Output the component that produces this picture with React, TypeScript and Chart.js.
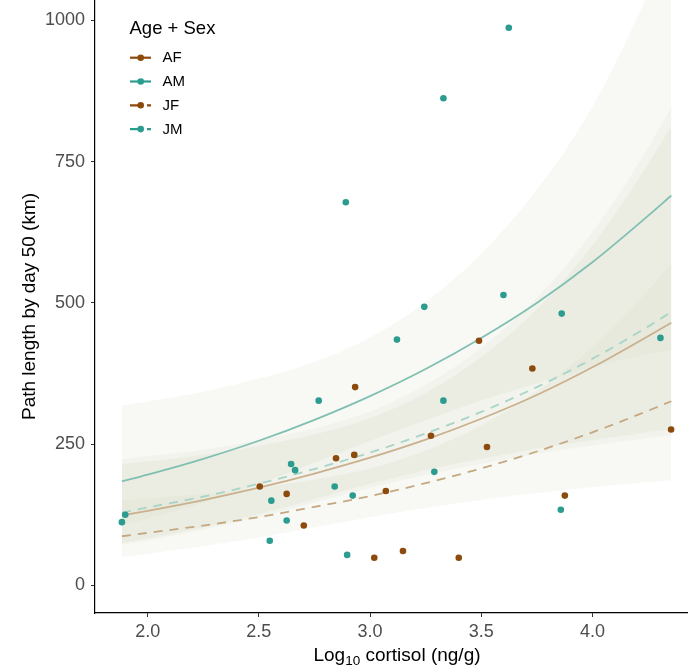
import React, { useEffect, useRef } from "react";
import { Chart, registerables } from "chart.js";

Chart.register(...registerables);

const FONT = "'Liberation Sans', Arial, Helvetica, sans-serif";

// Fitted curves at these cortisol values
const fitX = [1.884, 2.0, 2.25, 2.5, 2.75, 3.0, 3.25, 3.5, 3.75, 4.0, 4.25, 4.355];
const fitAF = [124, 132, 151, 173, 198, 226, 258, 295, 337, 386, 441, 465];
const fitAM = [184, 196, 224, 256, 293, 335, 383, 438, 500, 572, 654, 690];
const fitJF = [87, 93, 106, 121, 139, 158, 181, 207, 237, 271, 309, 326];
const fitJM = [129, 138, 157, 180, 206, 235, 269, 307, 351, 401, 458, 484];
// multiplicative half-width of the confidence ribbons at fitX
const ciFactor = [1.73, 1.66, 1.53, 1.43, 1.35, 1.31, 1.32, 1.37, 1.45, 1.56, 1.69, 1.75];
const ciFactorAM = [1.73, 1.66, 1.53, 1.43, 1.35, 1.31, 1.31, 1.34, 1.4, 1.48, 1.6, 1.66];

// Observed points
const femaleX = [2.504, 2.625, 2.702, 2.847, 2.929, 2.933, 3.019, 3.071, 3.148, 3.274, 3.399, 3.49, 3.526, 3.73, 3.876, 4.354];
const femaleY = [175, 162, 106, 225, 231, 351, 49, 167, 61, 265, 49, 433, 245, 384, 159, 276];
const maleX = [1.884, 1.899, 2.549, 2.556, 2.625, 2.645, 2.663, 2.769, 2.841, 2.891, 2.897, 2.922, 3.121, 3.244, 3.289, 3.33, 3.33, 3.6, 3.624, 3.858, 3.862, 4.306];
const maleY = [112, 125, 79, 150, 115, 215, 204, 327, 175, 678, 54, 159, 435, 493, 201, 327, 862, 514, 987, 134, 481, 438];

const xTicks = [2.0, 2.5, 3.0, 3.5, 4.0];
const yTicks = [0, 250, 500, 750, 1000];

const legendTitle = "Age + Sex";
const legendLabels = ["AF", "AM", "JF", "JM"];

const BROWN = "#8c4a0c";
const TEAL = "#2b9c8f";
const RIBBON = "rgba(165,175,128,0.08)";
const legendColors = [BROWN, TEAL, BROWN, TEAL];
const legendDashed = [false, false, true, true];

const toXY = (xs: number[], ys: number[]) => xs.map((x, i) => ({ x, y: ys[i] }));

const legendPlugin = {
  id: "ggLegend",
  afterDatasetsDraw(chart: any) {
    const ctx = chart.ctx;
    ctx.save();
    ctx.fillStyle = "#000";
    ctx.font = `18.5px ${FONT}`;
    ctx.textBaseline = "alphabetic";
    ctx.textAlign = "left";
    ctx.fillText(legendTitle, 129.5, 34);
    legendLabels.forEach((lab, i) => {
      const y = 57.7 + i * 23.8;
      ctx.strokeStyle = legendColors[i];
      ctx.lineWidth = 2.2;
      ctx.setLineDash(legendDashed[i] ? [13, 4] : []);
      ctx.beginPath();
      ctx.moveTo(130, y);
      ctx.lineTo(151, y);
      ctx.stroke();
      ctx.setLineDash([]);
      ctx.fillStyle = legendColors[i];
      ctx.beginPath();
      ctx.arc(140.7, y, 3.3, 0, Math.PI * 2);
      ctx.fill();
      ctx.fillStyle = "#000";
      ctx.font = `15px ${FONT}`;
      ctx.textBaseline = "middle";
      ctx.fillText(lab, 162.5, y + 0.5);
    });
    ctx.restore();
  },
};

const xTitlePlugin = {
  id: "xTitle",
  afterDraw(chart: any) {
    const ctx = chart.ctx;
    ctx.save();
    ctx.fillStyle = "#000";
    ctx.textBaseline = "alphabetic";
    ctx.textAlign = "left";
    const big = `19px ${FONT}`;
    const small = `13.5px ${FONT}`;
    const a = "Log";
    const sub = "10";
    const b = " cortisol (ng/g)";
    ctx.font = big;
    const wa = ctx.measureText(a).width;
    const wb = ctx.measureText(b).width;
    ctx.font = small;
    const ws = ctx.measureText(sub).width;
    const total = wa + ws + wb;
    const cx = 397;
    const base = 660.7;
    let x = cx - total / 2;
    ctx.font = big;
    ctx.fillText(a, x, base);
    x += wa;
    ctx.font = small;
    ctx.fillText(sub, x, base + 4);
    x += ws;
    ctx.font = big;
    ctx.fillText(b, x, base);
    ctx.restore();
  },
};

const zeroPad = (s: any) => {
  s.paddingTop = 0;
  s.paddingBottom = 0;
  s.paddingLeft = 0;
  s.paddingRight = 0;
};

export default function App() {
  const ref = useRef<HTMLCanvasElement>(null);
  useEffect(() => {
    document.body.style.margin = "0";
    if (!ref.current) return;

    const ribbon = (fit: number[], f: number[]) => [
      {
        type: "line",
        data: toXY(fitX, fit.map((v, i) => v / f[i])),
        borderWidth: 0,
        pointRadius: 0,
        fill: false,
        cubicInterpolationMode: "monotone",
        order: 3,
      },
      {
        type: "line",
        data: toXY(fitX, fit.map((v, i) => v * f[i])),
        borderWidth: 0,
        pointRadius: 0,
        backgroundColor: RIBBON,
        fill: "-1",
        cubicInterpolationMode: "monotone",
        order: 3,
      },
    ];

    const fitLine = (fit: number[], color: string, dash: number[]) => ({
      type: "line",
      data: toXY(fitX, fit),
      borderColor: color,
      borderWidth: 1.8,
      borderDash: dash,
      pointRadius: 0,
      fill: false,
      cubicInterpolationMode: "monotone",
      order: 2,
    });

    const chart = new Chart(ref.current, {
      type: "scatter",
      data: {
        datasets: [
          ...ribbon(fitAF, ciFactor),
          ...ribbon(fitAM, ciFactorAM),
          ...ribbon(fitJF, ciFactor),
          ...ribbon(fitJM, ciFactor),
          fitLine(fitJF, "#c5a882", [9, 7]),
          fitLine(fitJM, "#a9d4c8", [9, 7]),
          fitLine(fitAF, "#cbb08e", []),
          fitLine(fitAM, "#80c0b2", []),
          {
            type: "scatter",
            data: toXY(femaleX, femaleY),
            backgroundColor: BROWN,
            borderWidth: 0,
            pointRadius: 3.3,
            order: 1,
          },
          {
            type: "scatter",
            data: toXY(maleX, maleY),
            backgroundColor: TEAL,
            borderWidth: 0,
            pointRadius: 3.3,
            order: 1,
          },
        ] as any,
      },
      options: {
        animation: false,
        responsive: false,
        devicePixelRatio: 1,
        layout: { padding: 0, autoPadding: false },
        plugins: { legend: { display: false }, tooltip: { enabled: false } },
        scales: {
          x: {
            type: "linear",
            min: 1.763,
            max: 4.43,
            afterFit: (s: any) => {
              s.height = 55;
              zeroPad(s);
            },
            afterBuildTicks: (s: any) => {
              s.ticks = xTicks.map((v) => ({ value: v }));
            },
            ticks: {
              color: "#4d4d4d",
              font: { family: FONT, size: 18 },
              padding: 4,
              maxRotation: 0,
              callback: (v: any) => Number(v).toFixed(1),
            },
            grid: {
              display: true,
              drawOnChartArea: false,
              drawTicks: true,
              tickLength: 4,
              color: "#333333",
            },
            border: { display: true, color: "#000", width: 1.2 },
            title: { display: false },
          },
          y: {
            type: "linear",
            min: -48.8,
            max: 1036,
            afterFit: (s: any) => {
              s.width = 95;
              zeroPad(s);
            },
            afterBuildTicks: (s: any) => {
              s.ticks = yTicks.map((v) => ({ value: v }));
            },
            ticks: {
              color: "#4d4d4d",
              font: { family: FONT, size: 18 },
              padding: 6,
              callback: (v: any) => String(v),
            },
            grid: {
              display: true,
              drawOnChartArea: false,
              drawTicks: true,
              tickLength: 4,
              color: "#333333",
            },
            border: { display: true, color: "#000", width: 1.2 },
            title: {
              display: true,
              text: "Path length by day 50 (km)",
              color: "#000",
              font: { family: FONT, size: 19 },
              padding: { top: 18, bottom: 0 },
            },
          },
        },
      },
      plugins: [legendPlugin, xTitlePlugin],
    } as any);
    return () => chart.destroy();
  }, []);

  return (
    <div style={{ width: 688, height: 668 }}>
      <canvas ref={ref} width={688} height={668} style={{ display: "block" }} />
    </div>
  );
}
